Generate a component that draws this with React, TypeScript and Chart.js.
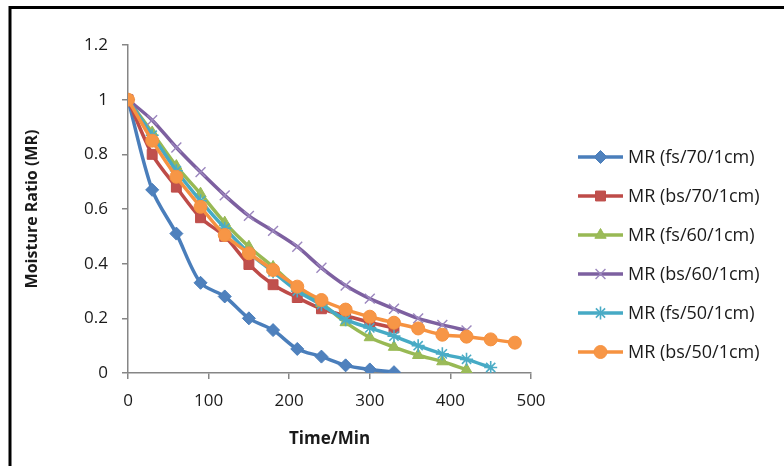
import React, { useEffect, useRef } from 'react';
import { Chart, registerables } from 'chart.js';
import { drawPoint } from 'chart.js/helpers';

Chart.register(...registerables);

// ---- data ----
const timeMin = [0, 30, 60, 90, 120, 150, 180, 210, 240, 270, 300, 330, 360, 390, 420, 450, 480];
const xTicks = [0, 100, 200, 300, 400, 500];
const yTicks = [0, 0.2, 0.4, 0.6, 0.8, 1, 1.2];

const seriesNames = [
  'MR (fs/70/1cm)',
  'MR (bs/70/1cm)',
  'MR (fs/60/1cm)',
  'MR (bs/60/1cm)',
  'MR (fs/50/1cm)',
  'MR (bs/50/1cm)',
];

const mrFs70 = [1, 0.67, 0.51, 0.33, 0.28, 0.2, 0.157, 0.088, 0.06, 0.028, 0.013, 0.003];
const mrBs70 = [1, 0.8, 0.68, 0.568, 0.5, 0.397, 0.323, 0.276, 0.235, 0.21, 0.185, 0.165];
const mrFs60 = [1, 0.88, 0.757, 0.656, 0.55, 0.462, 0.388, 0.31, 0.255, 0.185, 0.13, 0.095, 0.065, 0.042, 0.012];
const mrBs60 = [1, 0.925, 0.825, 0.735, 0.65, 0.575, 0.52, 0.462, 0.385, 0.32, 0.272, 0.235, 0.2, 0.176, 0.156];
const mrFs50 = [1, 0.87, 0.74, 0.63, 0.53, 0.44, 0.37, 0.3, 0.25, 0.195, 0.165, 0.135, 0.1, 0.07, 0.05, 0.02];
const mrBs50 = [1, 0.85, 0.718, 0.608, 0.505, 0.438, 0.377, 0.316, 0.267, 0.232, 0.206, 0.184, 0.163, 0.14, 0.133, 0.123, 0.111];

const seriesValues = [mrFs70, mrBs70, mrFs60, mrBs60, mrFs50, mrBs50];

// ---- styles ----
const lineColors = ['#4A7EBB', '#BE4B48', '#98B954', '#7D60A0', '#46AAC5', '#F69240'];
const markerFill = ['#4F81BD', '#C0504D', '#9BBB59', '#9B86BE', '#4BACC6', '#F79646'];
const markerStyle = ['rectRot', 'rect', 'triangle', 'crossRot', 'star', 'circle'];
const markerRadius = [6.5, 7, 6.5, 7, 6.5, 6.5];
const markerBorder = [1, 1, 1, 1.4, 1.6, 1];

const FONT = '"Open Sans", "Noto Sans", sans-serif';

const frameAndLegend = {
  id: 'frameAndLegend',
  beforeDraw(chart: any) {
    const ctx = chart.ctx;
    ctx.save();
    ctx.fillStyle = '#ffffff';
    ctx.fillRect(0, 0, chart.width, chart.height);
    ctx.restore();
  },
  afterDraw(chart: any) {
    const ctx = chart.ctx;
    ctx.save();
    // outer frame (top and left edges visible)
    ctx.strokeStyle = '#000000';
    ctx.lineWidth = 3;
    ctx.beginPath();
    ctx.moveTo(10, chart.height);
    ctx.lineTo(10, 7.5);
    ctx.lineTo(chart.width, 7.5);
    ctx.stroke();

    // legend
    const x0 = 578;
    const x1 = 623;
    const top = 157;
    const step = 39;
    chart.data.datasets.forEach((ds: any, i: number) => {
      const y = top + i * step;
      ctx.strokeStyle = ds.borderColor;
      ctx.lineWidth = ds.borderWidth;
      ctx.lineCap = 'butt';
      ctx.beginPath();
      ctx.moveTo(x0, y);
      ctx.lineTo(x1, y);
      ctx.stroke();
      ctx.fillStyle = ds.pointBackgroundColor;
      ctx.strokeStyle = ds.pointBorderColor;
      ctx.lineWidth = ds.pointBorderWidth;
      drawPoint(ctx, {
        pointStyle: ds.pointStyle,
        radius: ds.pointRadius,
        rotation: 0,
        borderWidth: ds.pointBorderWidth,
      } as any, (x0 + x1) / 2, y);
      ctx.fillStyle = '#1a1a1a';
      ctx.font = `18px ${FONT}`;
      ctx.textBaseline = 'middle';
      ctx.textAlign = 'left';
      ctx.fillText(ds.label, 628, y + 1);
    });
    ctx.restore();
  },
};

const fmt = (v: number) => String(parseFloat(Number(v).toFixed(2)));

export default function App() {
  const ref = useRef<HTMLCanvasElement | null>(null);

  useEffect(() => {
    document.body.style.margin = '0';
    const canvas = ref.current;
    if (!canvas) return;

    const datasets = seriesNames.map((name, i) => ({
      label: name,
      data: seriesValues[i].map((v, j) => ({ x: timeMin[j], y: v })),
      borderColor: lineColors[i],
      backgroundColor: markerFill[i],
      borderWidth: 3.5,
      pointStyle: markerStyle[i],
      pointRadius: markerRadius[i],
      pointHoverRadius: markerRadius[i],
      pointBackgroundColor: markerFill[i],
      pointBorderColor: markerStyle[i] === 'crossRot' || markerStyle[i] === 'star' ? markerFill[i] : lineColors[i],
      pointBorderWidth: markerBorder[i],
      tension: 0.3,
      fill: false,
      order: seriesNames.length - i,
    }));

    const chart = new Chart(canvas, {
      type: 'line',
      data: { datasets },
      options: {
        animation: false,
        responsive: false,
        maintainAspectRatio: false,
        layout: { padding: { left: 0, right: 253, top: 45, bottom: 0 } },
        plugins: {
          legend: { display: false },
          tooltip: { enabled: false },
        },
        scales: {
          x: {
            type: 'linear',
            min: 0,
            max: 500,
            afterBuildTicks: (scale: any) => {
              scale.ticks = xTicks.map((v) => ({ value: v }));
            },
            afterFit: (scale: any) => {
              scale.height = 93;
            },
            grid: {
              drawOnChartArea: false,
              drawTicks: true,
              tickLength: 6,
              color: '#868686',
              lineWidth: 1.5,
            },
            border: { display: true, color: '#868686', width: 1.5 },
            ticks: {
              padding: 12,
              color: '#1a1a1a',
              font: { family: FONT, size: 17 },
              maxRotation: 0,
              callback: (v: any) => fmt(v),
            },
            title: {
              display: true,
              text: 'Time/Min',
              color: '#1a1a1a',
              font: { family: FONT, size: 17, weight: 'bold' },
              padding: { top: 0, bottom: 17 },
            },
          },
          y: {
            type: 'linear',
            min: 0,
            max: 1.2,
            afterBuildTicks: (scale: any) => {
              scale.ticks = yTicks.map((v) => ({ value: v }));
            },
            afterFit: (scale: any) => {
              scale.width = 128;
            },
            grid: {
              drawOnChartArea: false,
              drawTicks: true,
              tickLength: 6,
              color: '#868686',
              lineWidth: 1.5,
            },
            border: { display: true, color: '#868686', width: 1.5 },
            ticks: {
              padding: 14,
              color: '#1a1a1a',
              font: { family: FONT, size: 17 },
              callback: (v: any) => fmt(v),
            },
            title: {
              display: true,
              text: 'Moisture Ratio (MR)',
              color: '#1a1a1a',
              font: { family: FONT, size: 16, weight: 'bold' },
              padding: { top: 23, bottom: 0 },
            },
          },
        },
      },
      plugins: [frameAndLegend],
    });

    return () => {
      chart.destroy();
    };
  }, []);

  return (
    <div style={{ position: 'absolute', left: 0, top: 0, width: 784, height: 466 }}>
      <canvas ref={ref} width={784} height={466} style={{ display: 'block' }} />
    </div>
  );
}
